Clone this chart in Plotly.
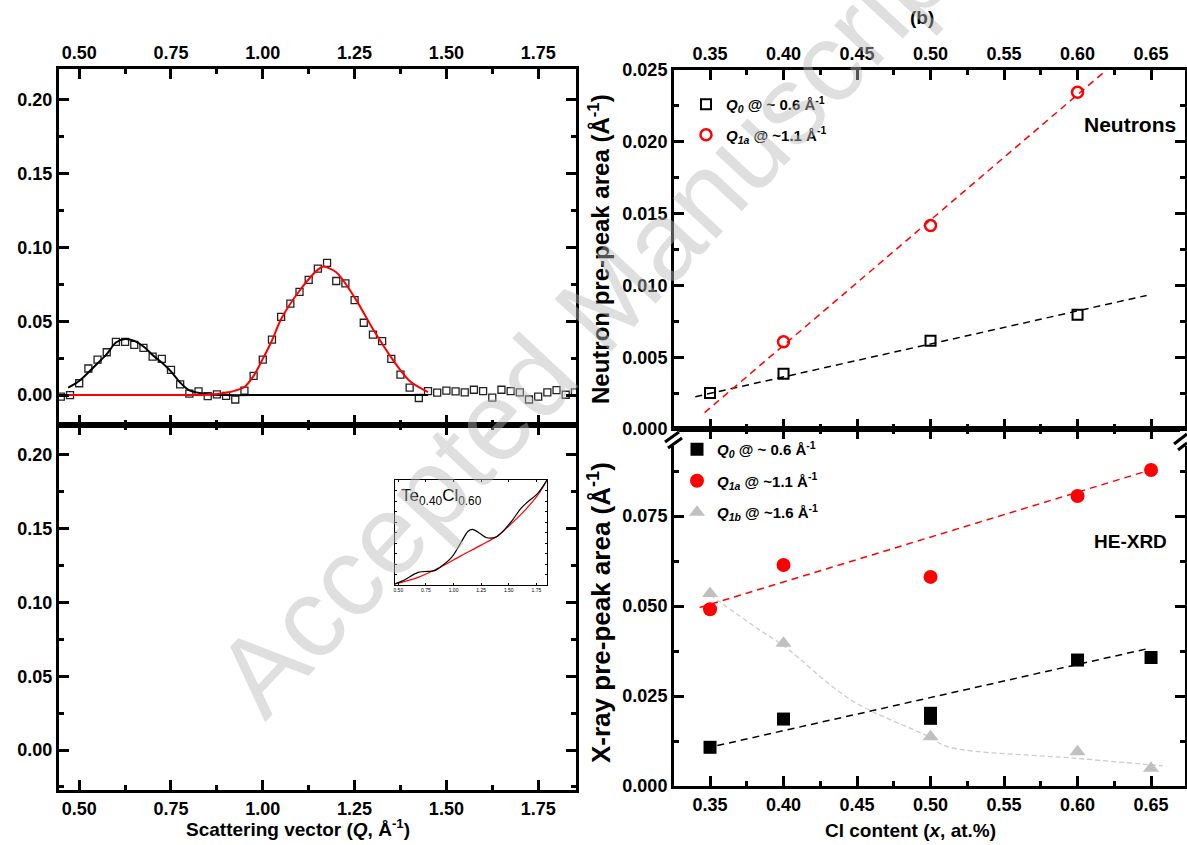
import plotly.graph_objects as go

W, H = 1187, 845
FONT = "Liberation Sans, Arial, sans-serif"


def px(x):
    return x / W


def py(y):
    return 1 - y / H


# ---------------- Panel (a): neutron difference data & Gaussian fits ----------------
q_data = [0.450, 0.475, 0.500, 0.525, 0.550, 0.575, 0.600, 0.625, 0.650, 0.675,
          0.700, 0.725, 0.750, 0.775, 0.800, 0.825, 0.850, 0.875, 0.900, 0.925,
          0.950, 0.975, 1.000, 1.025, 1.050, 1.075, 1.100, 1.125, 1.150, 1.175,
          1.200, 1.225, 1.250, 1.275, 1.300, 1.325, 1.350, 1.375, 1.400, 1.425,
          1.450, 1.475, 1.500, 1.525, 1.550, 1.575, 1.600, 1.625, 1.650, 1.675,
          1.700, 1.725, 1.750, 1.775, 1.800, 1.825, 1.850]
s_data = [-0.001, 0.000, 0.008, 0.018, 0.024, 0.029, 0.036, 0.036, 0.034, 0.032,
          0.026, 0.0245, 0.017, 0.0073, 0.001, 0.0025, -0.0007, 0.0005, -0.0005, -0.003,
          0.003, 0.013, 0.024, 0.0376, 0.053, 0.062, 0.070, 0.078, 0.0857, 0.0896,
          0.0773, 0.0757, 0.0644, 0.049, 0.041, 0.0365, 0.0245, 0.0138, 0.005, -0.002,
          0.0027, 0.0016, 0.003, 0.0025, 0.0018, 0.0036, 0.0027, -0.0018, 0.0036, 0.0027,
          0.0018, -0.003, -0.001, 0.0018, 0.0034, 0.0002, 0.0018]

fit0_q = [0.47, 0.50, 0.55, 0.575, 0.60, 0.625, 0.65, 0.675, 0.70, 0.725, 0.75, 0.775,
          0.80, 0.85, 0.90, 1.00, 1.20, 1.45]
fit0_s = [0.005, 0.0095, 0.0215, 0.0277, 0.0356, 0.038, 0.0367, 0.0329, 0.0272, 0.022,
          0.016, 0.0085, 0.0032, 0.0006, 0.0, 0.0, 0.0, 0.0]

fit1_q = [0.47, 0.70, 0.85, 0.90, 0.925, 0.95, 0.975, 1.00, 1.025, 1.05, 1.10, 1.15,
          1.165, 1.20, 1.25, 1.30, 1.35, 1.40, 1.45]
fit1_s = [0.0, 0.0, 0.0002, 0.0015, 0.003, 0.0055, 0.013, 0.0245, 0.037, 0.0515,
          0.0707, 0.085, 0.0871, 0.0832, 0.0662, 0.0447, 0.0254, 0.0095, 0.002]

# inset: Te0.40Cl0.60 (arbitrary units, normalised)
ins_q_black = [0.47, 0.56, 0.68, 0.83, 0.877, 0.98, 1.07, 1.13, 1.17, 1.24, 1.30, 1.39,
               1.52, 1.61, 1.67, 1.76, 1.846]
ins_y_black = [0.01, 0.05, 0.12, 0.137, 0.168, 0.26, 0.41, 0.51, 0.53, 0.49, 0.45, 0.46,
               0.60, 0.73, 0.79, 0.87, 1.0]
ins_q_red = [0.47, 0.68, 0.877, 1.07, 1.25, 1.40, 1.52, 1.645, 1.765, 1.846]
ins_y_red = [0.01, 0.073, 0.168, 0.28, 0.38, 0.47, 0.58, 0.71, 0.86, 1.0]

# ---------------- Panel (b): pre-peak areas vs Cl content ----------------
# Neutrons
n_x_q0 = [0.35, 0.40, 0.50, 0.60]
n_y_q0 = [0.0025, 0.00384, 0.00614, 0.00796]
n_x_q1a = [0.40, 0.50, 0.60]
n_y_q1a = [0.00607, 0.01417, 0.02345]
n_fit_q0_x = [0.340, 0.647]
n_fit_q0_y = [0.00225, 0.0093]
n_fit_q1a_x = [0.3463, 0.6197]
n_fit_q1a_y = [0.00114, 0.025]

# HE-XRD
x_x_q0 = [0.35, 0.40, 0.50, 0.50, 0.60, 0.65]
x_y_q0 = [0.01075, 0.0186, 0.0202, 0.0188, 0.0350, 0.0357]
x_x_q1a = [0.35, 0.40, 0.50, 0.60, 0.65]
x_y_q1a = [0.0491, 0.0614, 0.0581, 0.0806, 0.0878]
x_x_q1b = [0.35, 0.40, 0.50, 0.60, 0.65]
x_y_q1b = [0.0535, 0.0397, 0.0137, 0.0095, 0.0049]
x_fit_q0_x = [0.347, 0.647]
x_fit_q0_y = [0.0105, 0.0381]
x_fit_q1a_x = [0.343, 0.647]
x_fit_q1a_y = [0.0496, 0.0875]
x_fit_q1b_x = [0.35, 0.384, 0.40, 0.446, 0.499, 0.512, 0.599, 0.658]
x_fit_q1b_y = [0.0531, 0.0433, 0.0390, 0.0239, 0.0137, 0.0109, 0.0077, 0.0056]

RED = "#ff0000"
GREY = "#c0c0c0"

fig = go.Figure()

# ---- panel (a) top ----
fig.add_trace(go.Scatter(x=q_data, y=s_data, mode="markers", xaxis="x", yaxis="y",
                         marker=dict(symbol="square-open", size=7, color="#222222",
                                     line=dict(width=1.3, color="#222222")),
                         showlegend=False))
fig.add_trace(go.Scatter(x=fit0_q, y=fit0_s, mode="lines", xaxis="x", yaxis="y",
                         line=dict(color="black", width=2, shape="spline", smoothing=0.8),
                         showlegend=False))
fig.add_trace(go.Scatter(x=fit1_q, y=fit1_s, mode="lines", xaxis="x", yaxis="y",
                         line=dict(color=RED, width=2, shape="spline", smoothing=0.8),
                         showlegend=False))
# ---- panel (a) bottom: empty frame (holds the inset) ----
fig.add_trace(go.Scatter(x=[None], y=[None], mode="markers", xaxis="x2", yaxis="y2",
                         showlegend=False, hoverinfo="skip"))

# ---- inset ----
fig.add_trace(go.Scatter(x=ins_q_red, y=ins_y_red, mode="lines", xaxis="x5", yaxis="y5",
                         line=dict(color=RED, width=1.2, shape="spline"), showlegend=False))
fig.add_trace(go.Scatter(x=ins_q_black, y=ins_y_black, mode="lines", xaxis="x5", yaxis="y5",
                         line=dict(color="black", width=1.2, shape="spline"), showlegend=False))

# ---- panel (b) top: neutrons ----
fig.add_trace(go.Scatter(x=n_fit_q0_x, y=n_fit_q0_y, mode="lines", xaxis="x3", yaxis="y3",
                         line=dict(color="black", width=1.5, dash="7px,5px"), showlegend=False))
fig.add_trace(go.Scatter(x=n_fit_q1a_x, y=n_fit_q1a_y, mode="lines", xaxis="x3", yaxis="y3",
                         line=dict(color=RED, width=1.5, dash="7px,5px"), showlegend=False))
fig.add_trace(go.Scatter(x=n_x_q0, y=n_y_q0, mode="markers", xaxis="x3", yaxis="y3",
                         name="<i>Q</i><sub><i>0</i></sub> @ ~ 0.6 Å<sup>-1</sup>",
                         legend="legend", legendgroup="n0",
                         marker=dict(symbol="square-open", size=10, color="black",
                                     line=dict(width=2, color="black"))))
fig.add_trace(go.Scatter(x=n_x_q1a, y=n_y_q1a, mode="markers", xaxis="x3", yaxis="y3",
                         name="<i>Q</i><sub><i>1a</i></sub> @ ~1.1 Å<sup>-1</sup>",
                         legend="legend", legendgroup="n1",
                         marker=dict(symbol="circle-open", size=11, color=RED,
                                     line=dict(width=2.5, color=RED))))

# ---- panel (b) bottom: HE-XRD ----
fig.add_trace(go.Scatter(x=x_fit_q0_x, y=x_fit_q0_y, mode="lines", xaxis="x4", yaxis="y4",
                         line=dict(color="black", width=1.5, dash="7px,5px"), showlegend=False))
fig.add_trace(go.Scatter(x=x_fit_q1a_x, y=x_fit_q1a_y, mode="lines", xaxis="x4", yaxis="y4",
                         line=dict(color=RED, width=1.5, dash="7px,5px"), showlegend=False))
fig.add_trace(go.Scatter(x=x_fit_q1b_x, y=x_fit_q1b_y, mode="lines", xaxis="x4", yaxis="y4",
                         line=dict(color="#cccccc", width=1.3, dash="5px,3px", shape="spline"),
                         showlegend=False))
fig.add_trace(go.Scatter(x=x_x_q0, y=x_y_q0, mode="markers", xaxis="x4", yaxis="y4",
                         name="<i>Q</i><sub><i>0</i></sub> @ ~ 0.6 Å<sup>-1</sup>",
                         legend="legend2", legendgroup="x0",
                         marker=dict(symbol="square", size=13, color="black")))
fig.add_trace(go.Scatter(x=x_x_q1a, y=x_y_q1a, mode="markers", xaxis="x4", yaxis="y4",
                         name="<i>Q</i><sub><i>1a</i></sub> @ ~1.1 Å<sup>-1</sup>",
                         legend="legend2", legendgroup="x1",
                         marker=dict(symbol="circle", size=14, color=RED)))
fig.add_trace(go.Scatter(x=x_x_q1b, y=x_y_q1b, mode="markers", xaxis="x4", yaxis="y4",
                         name="<i>Q</i><sub><i>1b</i></sub> @ ~1.6 Å<sup>-1</sup>",
                         legend="legend2", legendgroup="x2",
                         marker=dict(symbol="triangle-up", size=14, color=GREY)))

tickfont = dict(family=FONT, size=18, color="black", weight="bold")


def ax(**kw):
    base = dict(showline=True, linewidth=3, linecolor="black", mirror="ticks",
                ticks="inside", ticklen=10, tickwidth=3, tickcolor="black",
                showgrid=False, zeroline=False, tickfont=tickfont, automargin=False)
    base.update(kw)
    return base


def minor(d, length=5, width=3):
    return dict(ticks="inside", ticklen=length, tickwidth=width, tickcolor="black", dtick=d)


LX = [px(59), px(576)]
RX = [px(674), px(1185)]

fig.update_layout(
    width=W, height=H, autosize=False, margin=dict(l=0, r=0, t=0, b=0, pad=0),
    paper_bgcolor="white", plot_bgcolor="rgba(0,0,0,0)",
    font=dict(family=FONT, color="black"),
    xaxis=ax(domain=LX, anchor="y", side="top", range=[0.445, 1.853], tick0=0.5, dtick=0.25,
             tickformat=".2f", minor=minor(0.125)),
    yaxis=ax(domain=[py(425), py(69)], anchor="x", range=[-0.0203, 0.221], tick0=0, dtick=0.05,
             tickformat=".2f", minor=minor(0.025)),
    xaxis2=ax(domain=LX, anchor="y2", side="bottom", range=[0.445, 1.853], tick0=0.5, dtick=0.25,
              tickformat=".2f", minor=minor(0.125)),
    yaxis2=ax(domain=[py(790), py(425)], anchor="x2", range=[-0.0271, 0.2203], tick0=0, dtick=0.05,
              tickformat=".2f", minor=minor(0.025)),
    xaxis3=ax(domain=RX, anchor="y3", side="top", range=[0.3255, 0.6731], tick0=0.35, dtick=0.05,
              tickformat=".2f", minor=minor(0.025)),
    yaxis3=ax(domain=[py(429), py(70)], anchor="x3", range=[0, 0.025], tick0=0, dtick=0.005,
              tickformat=".3f", minor=minor(0.0025)),
    xaxis4=ax(domain=RX, anchor="y4", side="bottom", range=[0.3255, 0.6731], tick0=0.35, dtick=0.05,
              tickformat=".2f", minor=minor(0.025)),
    yaxis4=ax(domain=[py(786), py(429)], anchor="x4", range=[0, 0.0992], tick0=0, dtick=0.025,
              tickformat=".3f", minor=minor(0.0125)),
    xaxis5=dict(domain=[px(395), px(547)], anchor="y5", range=[0.47, 1.846], showline=True,
                linewidth=1, linecolor="black", mirror="ticks", ticks="inside", ticklen=2,
                tickwidth=1, tickcolor="black", tick0=0.5, dtick=0.25, tickformat=".2f",
                showgrid=False, zeroline=False, automargin=False,
                tickfont=dict(family=FONT, size=5, color="black")),
    yaxis5=dict(domain=[py(585), py(480)], anchor="x5", range=[0, 1.0], showline=True,
                linewidth=1, linecolor="black", mirror="ticks", ticks="inside", ticklen=2,
                tickwidth=1, tickcolor="black", dtick=0.1, showticklabels=False,
                showgrid=False, zeroline=False, automargin=False),
    legend=dict(x=px(686), y=py(88), xanchor="left", yanchor="top", bgcolor="rgba(0,0,0,0)",
                font=dict(family=FONT, size=15, color="black", weight="bold"),
                tracegroupgap=8, itemclick=False),
    legend2=dict(x=px(677), y=py(433), xanchor="left", yanchor="top", bgcolor="rgba(0,0,0,0)",
                 font=dict(family=FONT, size=15, color="black", weight="bold"),
                 tracegroupgap=9, itemclick=False),
)

ann_font = dict(family=FONT, size=19, color="black", weight="bold")
annotations = [
    dict(text="Scattering vector (<i>Q</i>, Å<sup>-1</sup>)", x=px(298), y=py(828),
         font=ann_font),
    dict(text="Cl content (<i>x</i>, at.%)", x=px(910), y=py(830), font=ann_font),
    dict(text="Neutron pre-peak area (Å<sup>-1</sup>)", x=px(599), y=py(249),
         textangle=-90, font=dict(family=FONT, size=24, color="black", weight="bold")),
    dict(text="X-ray pre-peak area (Å<sup>-1</sup>)", x=px(599), y=py(612),
         textangle=-90, font=dict(family=FONT, size=26, color="black", weight="bold")),
    dict(text="(b)", x=px(922), y=py(18), font=ann_font),
    dict(text="Neutrons", x=px(1130), y=py(125),
         font=dict(family=FONT, size=21, color="black", weight="bold")),
    dict(text="HE-XRD", x=px(1130), y=py(541),
         font=dict(family=FONT, size=19, color="black", weight="bold")),
    dict(text="Te<sub>0.40</sub>Cl<sub>0.60</sub>", x=px(399), y=py(497), xanchor="left",
         font=dict(family=FONT, size=17, color="black")),
    dict(text="Accepted Manuscript", x=px(594), y=py(314), textangle=-47,
         font=dict(family=FONT, size=112, color="rgba(185,185,185,0.45)")),
]
for a in annotations:
    a.setdefault("xref", "paper")
    a.setdefault("yref", "paper")
    a.setdefault("showarrow", False)
    a.setdefault("xanchor", "center")
    a.setdefault("yanchor", "middle")
fig.update_layout(annotations=annotations)

# axis break marks on panel (b)
shapes = [
    dict(type="rect", x0=px(669), x1=px(679), y0=py(431), y1=py(446),
         fillcolor="white", line=dict(width=0)),
    dict(type="rect", x0=px(1180), x1=px(1187), y0=py(431), y1=py(446),
         fillcolor="white", line=dict(width=0)),
    dict(type="line", x0=px(665), y0=py(442), x1=px(679), y1=py(432), line=dict(color="black", width=3)),
    dict(type="line", x0=px(668), y0=py(448), x1=px(682), y1=py(438), line=dict(color="black", width=3)),
    dict(type="line", x0=px(1174), y0=py(444), x1=px(1187), y1=py(434), line=dict(color="black", width=3)),
    dict(type="line", x0=px(1178), y0=py(450), x1=px(1187), y1=py(443), line=dict(color="black", width=3)),
]
for s in shapes:
    s["xref"] = "paper"
    s["yref"] = "paper"
fig.update_layout(shapes=shapes)

fig.write_html("out.html", config={"displayModeBar": False},
               post_script="document.body.style.margin='0';document.body.style.overflow='hidden';")
